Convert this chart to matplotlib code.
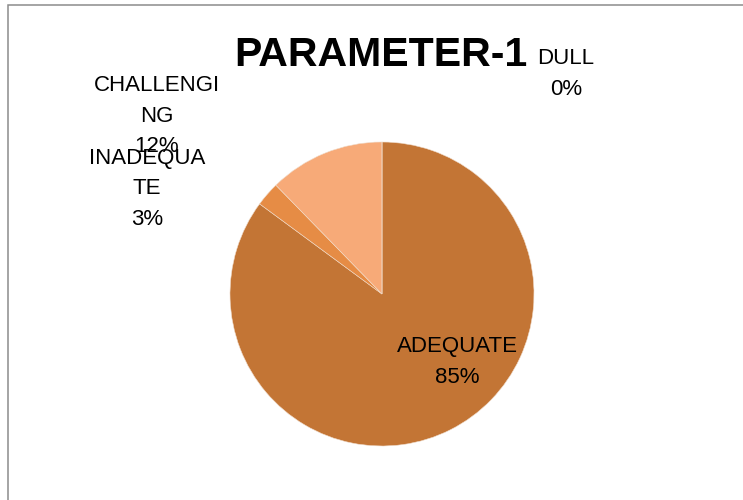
import matplotlib
matplotlib.use("Agg")
import matplotlib.pyplot as plt
from matplotlib.patches import Rectangle

# ---- data ----
categories = ["ADEQUATE", "INADEQUATE", "CHALLENGING", "DULL"]
values = [85.1, 2.6, 12.3, 0.0]
label_text = ["ADEQUATE", "INADEQUA\nTE", "CHALLENGI\nNG", "DULL"]
colors = ["#C37535", "#E68C45", "#F7AA78", "#F9C9A8"]
title = "PARAMETER-1"

FONT = ["Liberation Sans Narrow", "Liberation Sans", "DejaVu Sans"]

W, H = 743, 500
fig = plt.figure(figsize=(W / 100, H / 100), dpi=100)
fig.patch.set_facecolor("white")

# chart border (top and left visible)
fig.add_artist(Rectangle((8 / W, -0.2), 2.0, 1.2 - 5 / H,
                         transform=fig.transFigure, fill=False,
                         edgecolor="#8c8c8c", linewidth=1.1))

cx, cy, r = 382, 294, 152
ax = fig.add_axes([(cx - r) / W, (H - cy - r) / H, 2 * r / W, 2 * r / H])
wedges, _ = ax.pie(values, colors=colors, startangle=90, counterclock=False,
                   radius=1.0, wedgeprops=dict(edgecolor="#f0dccb", linewidth=0.4))
ax.set_xlim(-1, 1)
ax.set_ylim(-1, 1)
ax.set_aspect("equal")
ax.axis("off")

total = sum(values)
pcts = [f"{v / total * 100:.0f}%" for v in values]

# label positions in pixels (centre of text block)
label_pos = {
    "ADEQUATE": (457, 362),
    "INADEQUATE": (147, 189),
    "CHALLENGING": (157, 116),
    "DULL": (566, 74),
}
for cat, lab, p in zip(categories, label_text, pcts):
    x, y = label_pos[cat]
    fig.text(x / W, 1 - y / H, f"{lab}\n{p}", ha="center", va="center",
             fontsize=16, family=FONT, color="black", linespacing=1.6)

fig.text(381 / W, 1 - 55 / H, title, ha="center", va="center",
         fontsize=29.5, fontweight="bold", family=FONT, color="black")

fig.savefig("out.png", dpi=100)
